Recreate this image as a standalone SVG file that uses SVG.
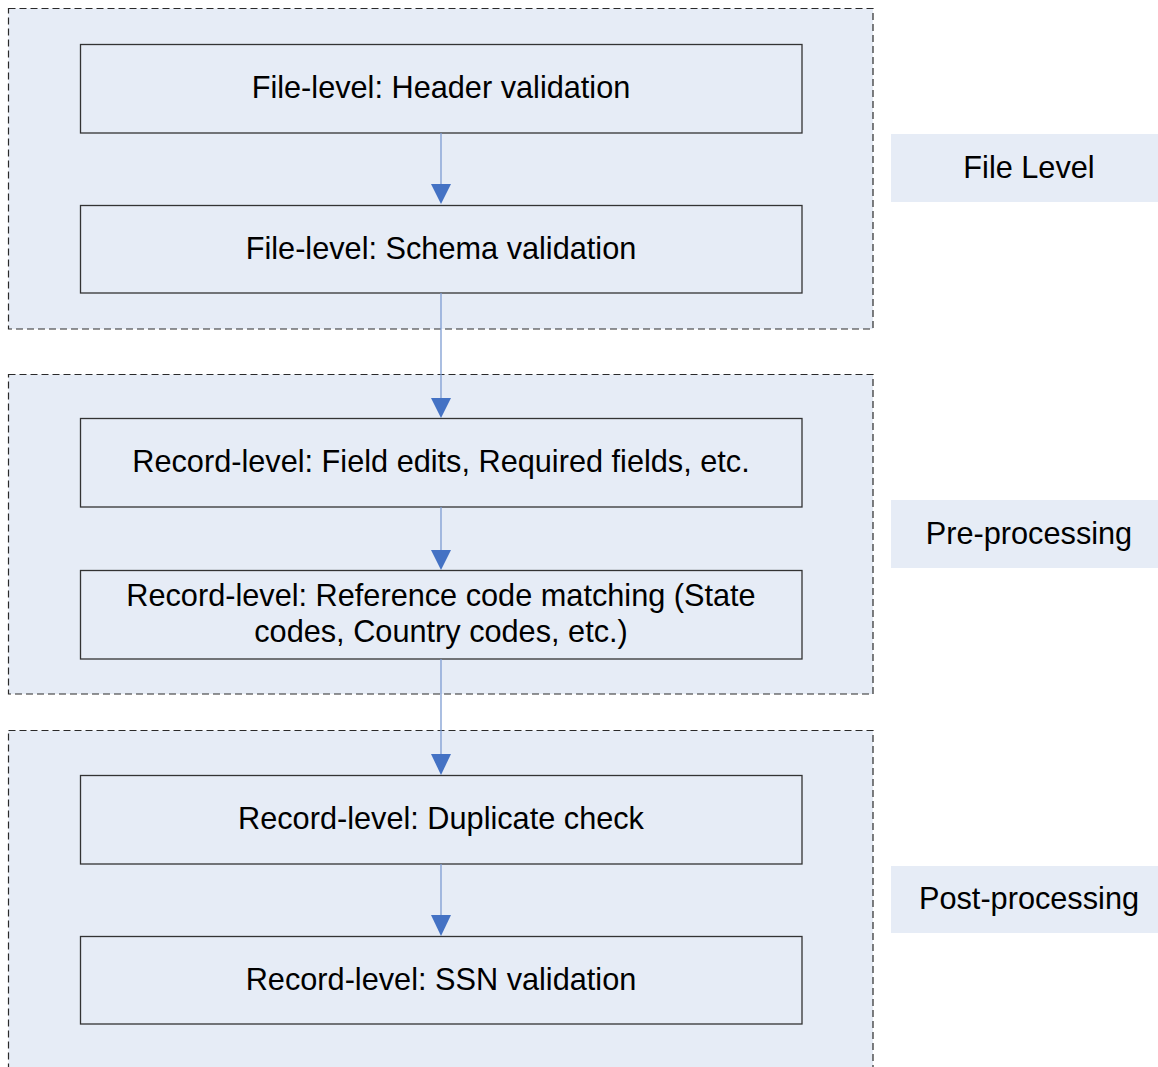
<svg xmlns="http://www.w3.org/2000/svg" width="1158" height="1067" viewBox="0 0 1158 1067">
<style>
.grp{fill:#e6ecf6;stroke:#2a2a2a;stroke-width:1.2;stroke-dasharray:7,4}
.box{fill:#e6ecf6;stroke:#333;stroke-width:1.3}
.lbl{fill:#e6ecf6}
.t{font-family:"Liberation Sans",Arial,sans-serif;font-size:30.7px;fill:#000;text-anchor:middle}
.conn{stroke:#7d9cd2;stroke-width:1.3;fill:none}
.head{fill:#4472c4}
</style>
<rect width="1158" height="1067" fill="#fff"/>
<g id="group-file-level">
<rect class="grp" x="8.5" y="8.5" width="864.5" height="320.5"/>
</g>
<g id="group-pre-processing">
<rect class="grp" x="8.5" y="374.5" width="864.5" height="319.5"/>
</g>
<g id="group-post-processing">
<rect class="grp" x="8.5" y="730.5" width="864.5" height="400"/>
</g>
<g id="label-file-level"><rect class="lbl" x="891" y="134" width="267" height="68"/><text class="t" x="1029" y="178">File Level</text></g>
<g id="label-pre-processing"><rect class="lbl" x="891" y="500" width="267" height="68"/><text class="t" x="1029" y="544">Pre-processing</text></g>
<g id="label-post-processing"><rect class="lbl" x="891" y="866" width="267" height="67"/><text class="t" x="1029" y="909">Post-processing</text></g>
<g id="node-header"><rect class="box" x="80.5" y="44.5" width="721.5" height="88.5"/><text class="t" x="441" y="98">File-level: Header validation</text></g>
<g id="node-schema"><rect class="box" x="80.5" y="205.5" width="721.5" height="87.5"/><text class="t" x="441" y="259">File-level: Schema validation</text></g>
<g id="node-field-edits"><rect class="box" x="80.5" y="418.5" width="721.5" height="88.5"/><text class="t" x="441" y="472">Record-level: Field edits, Required fields, etc.</text></g>
<g id="node-ref-code"><rect class="box" x="80.5" y="570.5" width="721.5" height="88.5"/><text class="t" x="441" y="606">Record-level: Reference code matching (State</text><text class="t" x="441" y="642">codes, Country codes, etc.)</text></g>
<g id="node-duplicate"><rect class="box" x="80.5" y="775.5" width="721.5" height="88.5"/><text class="t" x="441" y="829">Record-level: Duplicate check</text></g>
<g id="node-ssn"><rect class="box" x="80.5" y="936.5" width="721.5" height="87.5"/><text class="t" x="441" y="990">Record-level: SSN validation</text></g>
<g id="connectors">
<line class="conn" x1="441" y1="133" x2="441" y2="185"/><polygon class="head" points="431,184 451,184 441,204"/>
<line class="conn" x1="441" y1="293" x2="441" y2="399"/><polygon class="head" points="431,398 451,398 441,418"/>
<line class="conn" x1="441" y1="507" x2="441" y2="551"/><polygon class="head" points="431,550 451,550 441,570"/>
<line class="conn" x1="441" y1="659" x2="441" y2="755"/><polygon class="head" points="431,754 451,754 441,775"/>
<line class="conn" x1="441" y1="864" x2="441" y2="916"/><polygon class="head" points="431,915 451,915 441,936"/>
</g>
</svg>
